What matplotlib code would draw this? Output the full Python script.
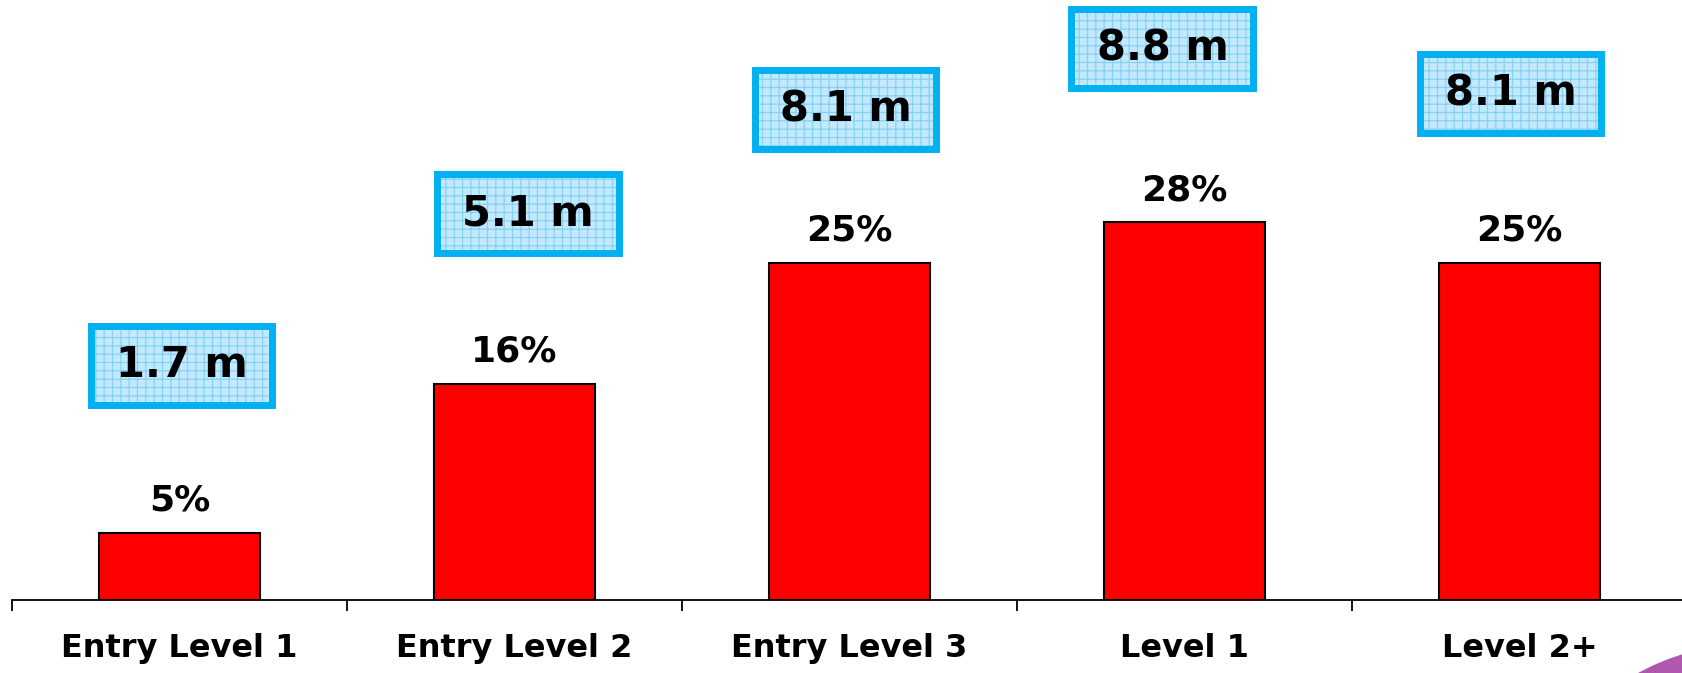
import numpy as np
import matplotlib
matplotlib.use('AGG')
import matplotlib.pyplot as plt
from matplotlib.patches import Rectangle, Ellipse

categories = ['Entry Level 1', 'Entry Level 2', 'Entry Level 3', 'Level 1', 'Level 2+']
shares = [5, 16, 25, 28, 25]
share_labels = ['5%', '16%', '25%', '28%', '25%']
people = ['1.7 m', '5.1 m', '8.1 m', '8.8 m', '8.1 m']

# where the blue boxes sit (layout only)
box_dx = [0.006, 0.04, -0.012, -0.066, -0.027]
box_y = [17.4, 28.7, 36.4, 40.9, 37.6]

plt.rcParams['font.family'] = 'DejaVu Sans'
plt.rcParams['hatch.linewidth'] = 0.9

W, H = 1682, 673
fig = plt.figure(figsize=(W / 100, H / 100), dpi=100)
ax = fig.add_axes([12 / W, 73 / H, 1675 / W, 600 / H])

x = np.arange(len(categories))
ax.bar(x, shares, width=0.48, color='#FF0000', edgecolor='black', linewidth=1.5, zorder=2)

for xi, s, lab in zip(x, shares, share_labels):
    ax.text(xi, s + 2.4, lab, ha='center', va='center', fontsize=26,
            fontweight='bold', color='black')

bw, bh = 0.543, 5.86
for xi, dx, yc, txt in zip(x, box_dx, box_y, people):
    cx = xi + dx
    ax.add_patch(Rectangle((cx - bw / 2, yc - bh / 2), bw, bh, facecolor='#C3E9FF',
                           edgecolor='#86D2F6', hatch='++', linewidth=0, zorder=3))
    ax.add_patch(Rectangle((cx - bw / 2, yc - bh / 2), bw, bh, facecolor='none',
                           edgecolor='#00B0F0', linewidth=5, zorder=4))
    ax.text(cx, yc, txt, ha='center', va='center', fontsize=30, fontweight='bold',
            color='black', zorder=5)

ax.set_xlim(-0.5, 4.5)
ax.set_ylim(0, 44.5)
for sp in ['top', 'right', 'left']:
    ax.spines[sp].set_visible(False)
ax.spines['bottom'].set_linewidth(1.3)
ax.set_yticks([])
ax.set_xticks(x)
ax.set_xticklabels(categories, fontsize=23, fontweight='bold')
ax.tick_params(axis='x', which='major', length=0, pad=24)
ax.set_xticks(np.arange(-0.5, 4.5, 1.0), minor=True)
ax.tick_params(axis='x', which='minor', length=8, width=1.3, direction='out')

# purple swoosh in the corner
fig.patches.append(Ellipse((1830, -60), 480, 200, transform=None,
                           facecolor='#A23AA0', edgecolor='none', alpha=0.85))

fig.savefig('out.png', dpi=100)
